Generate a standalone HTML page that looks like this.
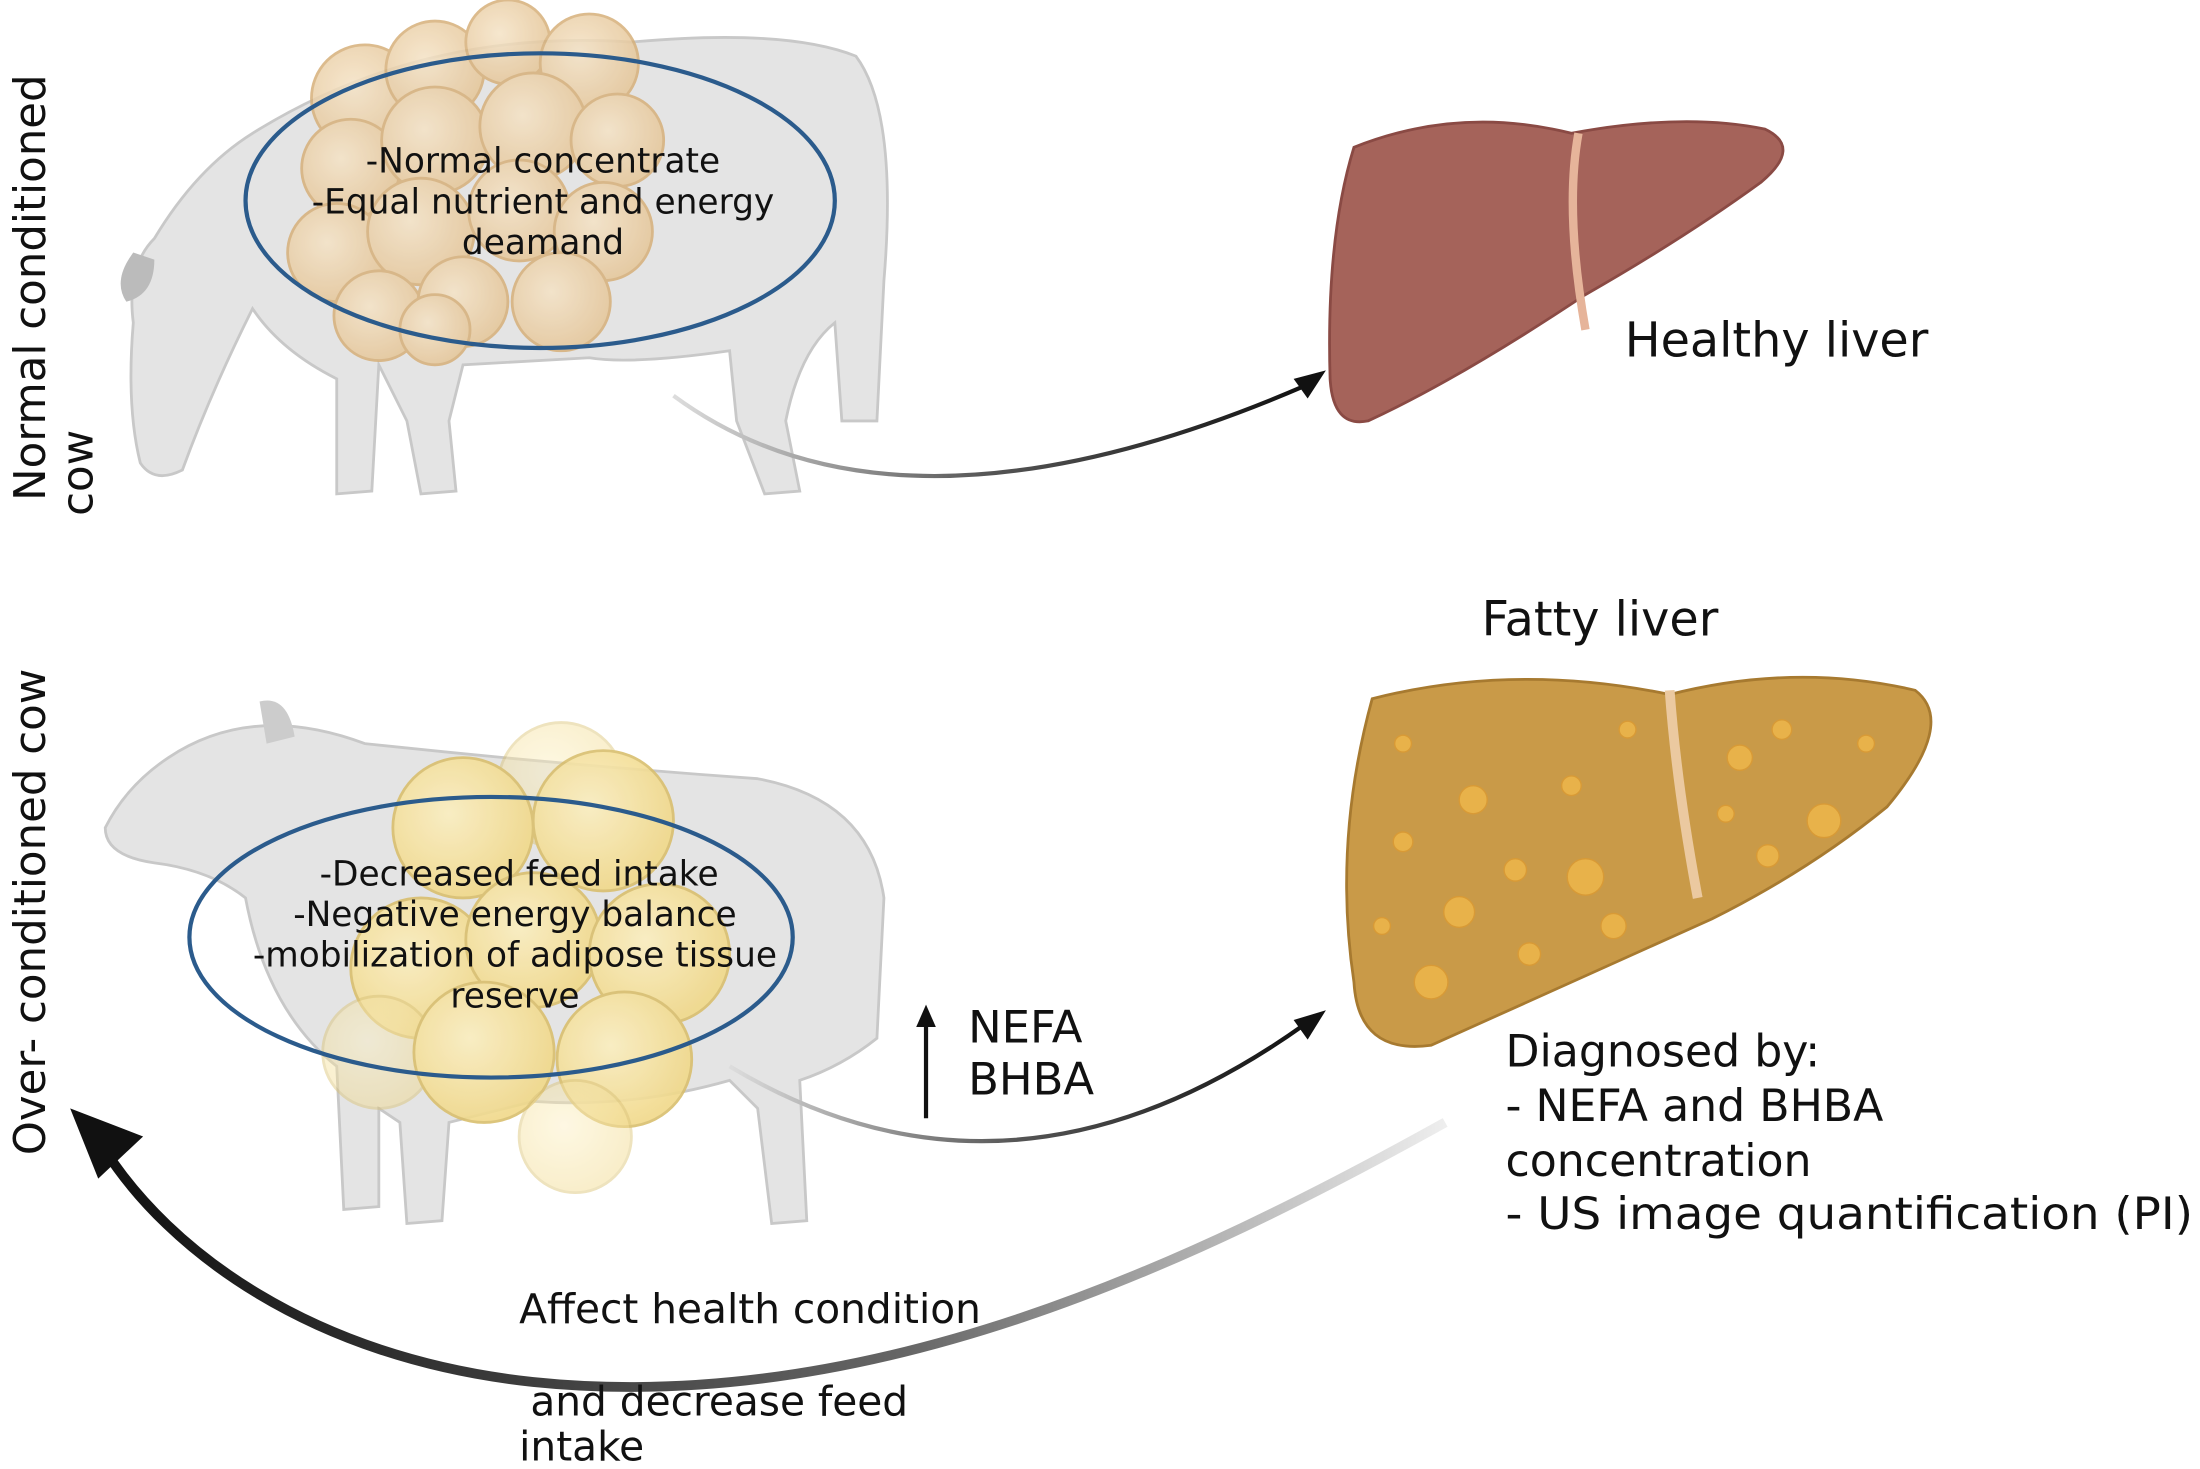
<!DOCTYPE html>
<html><head><meta charset="utf-8"><style>
html,body{margin:0;padding:0;background:#fff;}
svg{display:block;}
text{font-family:"DejaVu Sans","Liberation Sans",sans-serif;fill:#111;}
</style></head><body>
<svg width="2200" height="1469" viewBox="0 0 1568 1047" xmlns="http://www.w3.org/2000/svg">
<defs>
<linearGradient id="g1" x1="0" x2="1" y1="0" y2="0"><stop offset="0" stop-color="#ddd"/><stop offset="0.5" stop-color="#555"/><stop offset="1" stop-color="#111"/></linearGradient>
<linearGradient id="g2" x1="1" x2="0" y1="0" y2="0"><stop offset="0" stop-color="#eee"/><stop offset="0.4" stop-color="#666"/><stop offset="1" stop-color="#111"/></linearGradient>
<radialGradient id="fat" cx="0.4" cy="0.4" r="0.6"><stop offset="0" stop-color="#fbeec0"/><stop offset="1" stop-color="#f1d98a"/></radialGradient>
<radialGradient id="fat2" cx="0.4" cy="0.4" r="0.6"><stop offset="0" stop-color="#f5e3c6"/><stop offset="1" stop-color="#e6c79a"/></radialGradient>
</defs>
<rect width="1568" height="1047" fill="#fff"/>

<text transform="translate(32,205) rotate(-90)" font-size="31" text-anchor="middle">Normal conditioned</text>
<text transform="translate(66,205) rotate(-90)" font-size="31" text-anchor="middle" x="-132">cow</text>
<text transform="translate(32,650) rotate(-90)" font-size="31" text-anchor="middle">Over- conditioned cow</text>

<g fill="#e4e4e4" stroke="#c8c8c8" stroke-width="2">
<path d="M180,95 Q300,20 450,30 Q560,20 610,40 Q640,80 630,200 L625,300 L600,300 L595,230 Q570,250 560,300 L570,350 L545,352 L525,300 L520,250 Q450,260 420,255 L330,260 L320,300 L325,350 L300,352 L290,300 L270,260 L265,350 L240,352 L240,270 Q200,250 180,220 Q150,280 130,335 Q110,345 100,330 Q90,290 95,230 Q90,190 110,170 Q140,120 180,95Z"/>
</g>
<path d="M95,180 Q80,200 90,215 Q110,210 110,185Z" fill="#bbb"/>
<g fill="url(#fat2)" stroke="#d6b07a" stroke-width="2" opacity="0.85">
<circle cx="260" cy="70" r="38"/><circle cx="310" cy="50" r="35"/><circle cx="362" cy="30" r="30"/><circle cx="420" cy="45" r="35"/>
<circle cx="250" cy="120" r="35"/><circle cx="310" cy="100" r="38"/><circle cx="380" cy="90" r="38"/><circle cx="440" cy="100" r="33"/>
<circle cx="240" cy="180" r="35"/><circle cx="300" cy="165" r="38"/><circle cx="370" cy="150" r="36"/><circle cx="430" cy="165" r="35"/>
<circle cx="270" cy="225" r="32"/><circle cx="330" cy="215" r="32"/><circle cx="400" cy="215" r="35"/><circle cx="310" cy="235" r="25"/>
</g>
<ellipse cx="385" cy="143" rx="210" ry="105" fill="none" stroke="#2b5b8c" stroke-width="3"/>
<g font-size="24.5" text-anchor="middle">
<text x="387" y="123">-Normal concentrate</text>
<text x="387" y="152">-Equal nutrient and energy</text>
<text x="387" y="181">deamand</text>
</g>

<path d="M480,282 Q640,400 930,275" fill="none" stroke="url(#g1)" stroke-width="3"/>
<path d="M945,264 L922,270 L932,284Z" fill="#111"/>

<path d="M965,105 Q1040,75 1120,95 Q1200,80 1258,92 Q1285,105 1255,130 Q1200,170 1130,210 Q1040,270 975,300 Q950,305 948,270 Q945,170 965,105Z" fill="#a5635a" stroke="#8a4a44" stroke-width="2"/>
<path d="M1125,95 Q1115,150 1130,235" fill="none" stroke="#e6b49a" stroke-width="6"/>
<text x="1158" y="254" font-size="34">Healthy liver</text>

<g fill="#e4e4e4" stroke="#c8c8c8" stroke-width="2">
<path d="M120,540 Q180,500 260,530 Q400,545 540,555 Q620,570 630,640 L625,740 Q600,760 570,770 L575,870 L550,872 L540,790 L520,770 Q450,790 380,785 L320,800 L315,870 L290,872 L285,800 L270,790 L270,860 L245,862 L240,760 Q190,720 175,640 Q150,620 110,615 Q75,610 75,590 Q90,560 120,540Z"/>
</g>
<path d="M185,500 Q205,495 210,525 L190,530Z" fill="#ccc"/>
<g fill="url(#fat)" stroke="#d9bf6e" stroke-width="2" opacity="0.9">
<circle cx="400" cy="560" r="45" opacity="0.5"/><circle cx="330" cy="590" r="50"/><circle cx="430" cy="585" r="50"/>
<circle cx="300" cy="690" r="50"/><circle cx="380" cy="670" r="48"/><circle cx="470" cy="680" r="50"/>
<circle cx="270" cy="750" r="40" opacity="0.5"/><circle cx="345" cy="750" r="50"/><circle cx="445" cy="755" r="48"/><circle cx="410" cy="810" r="40" opacity="0.5"/>
</g>
<ellipse cx="350" cy="668" rx="215" ry="100" fill="none" stroke="#2b5b8c" stroke-width="3"/>
<g font-size="24.5" text-anchor="middle">
<text x="370" y="631">-Decreased feed intake</text>
<text x="367" y="660">-Negative energy balance</text>
<text x="367" y="689">-mobilization of adipose tissue</text>
<text x="367" y="718">reserve</text>
</g>

<line x1="660" y1="797" x2="660" y2="730" stroke="#111" stroke-width="3"/>
<path d="M660,716 L653,732 L667,732Z" fill="#111"/>
<text x="690" y="743" font-size="32">NEFA</text>
<text x="690" y="780" font-size="32">BHBA</text>
<path d="M520,760 Q720,880 930,730" fill="none" stroke="url(#g1)" stroke-width="3"/>
<path d="M945,720 L922,727 L932,741Z" fill="#111"/>

<path d="M978,498 Q1080,472 1190,495 Q1280,472 1365,492 Q1395,515 1345,575 Q1290,620 1220,655 Q1120,700 1020,745 Q968,752 965,700 Q950,600 978,498Z" fill="#c99a48" stroke="#a77a30" stroke-width="2"/>
<path d="M1190,492 Q1195,560 1210,640" fill="none" stroke="#ebc9a0" stroke-width="7"/>
<g fill="#e8b24a" stroke="#d89a36" stroke-width="1">
<circle cx="1050" cy="570" r="10"/><circle cx="1080" cy="620" r="8"/><circle cx="1120" cy="560" r="7"/><circle cx="1130" cy="625" r="13"/><circle cx="1000" cy="600" r="7"/><circle cx="1040" cy="650" r="11"/><circle cx="1020" cy="700" r="12"/><circle cx="1090" cy="680" r="8"/><circle cx="1240" cy="540" r="9"/><circle cx="1300" cy="585" r="12"/><circle cx="1260" cy="610" r="8"/><circle cx="1160" cy="520" r="6"/><circle cx="1330" cy="530" r="6"/><circle cx="1230" cy="580" r="6"/><circle cx="1000" cy="530" r="6"/><circle cx="1150" cy="660" r="9"/><circle cx="985" cy="660" r="6"/><circle cx="1270" cy="520" r="7"/>
</g>
<text x="1056" y="453" font-size="34">Fatty liver</text>
<g font-size="31.5">
<text x="1073" y="760">Diagnosed by:</text>
<text x="1073" y="799">- NEFA and BHBA</text>
<text x="1073" y="838">concentration</text>
<text x="1073" y="876" textLength="490" lengthAdjust="spacingAndGlyphs">- US image quantification (PI)</text>
</g>

<path d="M1030,800 C850,900 620,1010 380,985 C220,968 120,890 75,820" fill="none" stroke="url(#g2)" stroke-width="7"/>
<path d="M50,790 L102,810 L70,840Z" fill="#111"/>
<text x="370" y="943" font-size="29">Affect health condition</text>
<text x="378" y="1009" font-size="29">and decrease feed</text>
<text x="370" y="1041" font-size="29">intake</text>
</svg>
</body></html>
